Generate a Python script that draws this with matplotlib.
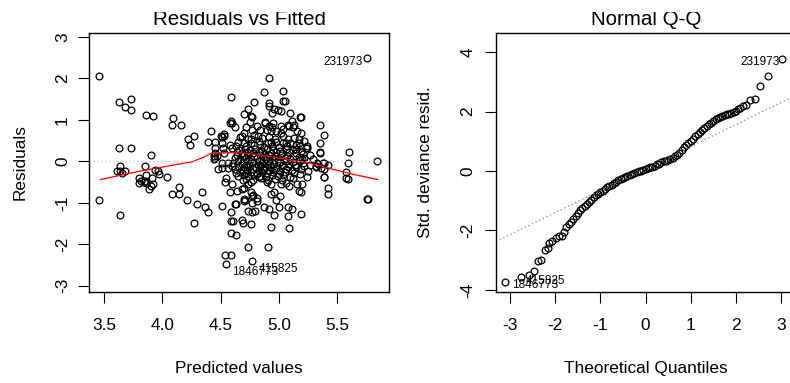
import numpy as np
import matplotlib
matplotlib.use("Agg")
import matplotlib.pyplot as plt
from matplotlib.patches import Rectangle

# residuals vs fitted
fitted = [
    3.46, 3.46, 3.63, 3.68, 3.73, 3.73, 3.63, 3.73, 3.64, 3.90,
    3.64, 3.61, 3.64, 3.68, 3.65, 3.85, 3.86, 3.92, 4.09, 4.08,
    4.16, 4.22, 4.27, 4.24, 4.42, 4.39, 4.45, 4.45, 4.45, 4.45,
    3.80, 3.82, 3.80, 3.84, 3.86, 3.89, 3.90, 3.92, 3.91, 3.96,
    3.97, 3.94, 4.04, 3.86, 3.85, 4.14, 4.08, 4.14, 4.21, 4.34,
    4.30, 4.37, 4.39, 4.27, 4.51, 4.44, 4.59, 4.59, 4.60, 4.58,
    4.62, 4.53, 4.53, 4.51, 4.58, 4.50, 4.51, 4.52, 4.53, 4.47,
    4.44, 4.48, 4.51, 4.56, 4.51, 4.56, 4.60, 4.61, 4.62, 4.55,
    4.54, 4.60, 4.58, 4.62, 4.63, 4.59, 4.59, 4.61, 4.59, 4.63,
    4.54, 4.59, 4.55, 4.77, 4.74, 4.91, 4.68, 4.69, 4.76, 4.93,
    5.09, 4.96, 5.08, 5.19, 4.87, 4.92, 5.00, 5.08, 5.11, 4.74,
    4.77, 4.80, 4.70, 4.70, 4.71, 4.98, 5.01, 4.96, 4.93, 4.81,
    4.77, 4.77, 4.81, 4.70, 4.76, 4.78, 4.74, 4.76, 4.69, 4.64,
    4.68, 5.17, 5.19, 5.20, 5.16, 5.24, 5.25, 5.27, 5.32, 5.34,
    5.39, 5.09, 5.02, 5.06, 4.93, 4.90, 4.83, 4.81, 5.36, 5.39,
    5.39, 5.42, 5.42, 5.58, 5.59, 5.58, 5.59, 5.84, 5.76, 5.77,
    5.60, 5.35, 5.39, 5.35, 5.35, 5.35, 5.76, 5.29, 5.33, 5.32,
    5.38, 5.39, 5.42, 5.23, 5.24, 5.19, 5.21, 5.17, 5.22, 5.27,
    4.92, 4.87, 5.04, 4.79, 5.04, 5.05, 4.92, 4.92, 4.74, 4.96,
    4.99, 5.02, 4.94, 5.10, 4.76, 5.18, 5.19, 4.88, 4.95, 5.11,
    5.02, 5.08, 5.12, 5.16, 5.19, 4.90, 4.93, 4.98, 5.02, 4.70,
    4.77, 4.75, 4.72, 4.70, 4.68, 4.77, 4.79, 4.76, 4.82, 4.83,
    4.70, 5.24, 5.18, 5.17, 5.15, 5.22, 5.10, 5.04, 4.98, 4.93,
    4.67, 4.65, 4.63, 4.60, 4.88, 4.81, 4.84, 4.92, 4.94, 5.04,
    5.09, 5.13, 4.86, 4.92, 4.97, 5.04, 5.08, 5.13, 5.17, 4.74,
    4.66, 4.71, 4.75, 4.80, 4.86, 4.90, 4.95, 5.01, 5.06, 5.12,
    4.68, 4.73, 4.78, 4.83, 4.88, 4.93, 4.98, 5.03, 5.09, 5.15,
    4.64, 4.70, 4.74, 4.79, 4.84, 4.89, 4.92, 4.97, 5.02, 5.07,
    4.67, 4.72, 4.76, 4.81, 4.85, 4.90, 4.94, 4.99, 5.05, 5.10,
    4.65, 4.69, 4.74, 4.78, 4.83, 4.87, 4.92, 4.96, 5.01, 5.06,
    5.12, 5.18, 4.68, 4.72, 4.77, 4.82, 4.86, 4.91, 4.95, 5.00,
    5.04, 5.09, 5.14, 5.21, 4.66, 4.70, 4.75, 4.80, 4.84, 4.88,
    4.93, 4.98, 5.03, 5.08, 5.15, 4.69, 4.73, 4.78, 4.83, 4.87,
    4.92, 4.96, 5.01, 5.06, 5.11, 5.19, 4.67, 4.72, 4.76, 4.81,
    4.86, 4.90, 4.95, 5.00, 5.05, 5.13, 4.70, 4.74, 4.79, 4.84,
    4.89, 4.94, 4.99, 5.04, 5.10, 4.72, 4.78, 4.85, 4.91, 4.97,
    5.03, 5.12, 4.72, 4.79, 4.87, 4.94, 5.00, 5.07, 4.76, 4.84,
    4.91, 5.06, 4.64, 4.62, 4.63, 4.65, 5.18, 5.22, 5.15, 5.20,
]
residuals = [
    2.05, -0.93, 1.43, 1.30, 1.49, 1.24, 0.31, 0.31, -1.29, 0.14,
    -0.11, -0.24, -0.24, -0.24, -0.28, -0.11, 1.11, 1.08, 1.04, 0.88,
    0.88, 0.53, 0.60, 0.40, 0.72, 0.47, 0.47, 0.31, 0.21, 0.08,
    -0.40, -0.47, -0.53, -0.50, -0.53, -0.66, -0.59, -0.56, -0.40, -0.24,
    -0.30, -0.21, -0.37, -0.34, -0.47, -0.63, -0.79, -0.79, -0.94, -0.75,
    -1.04, -1.10, -1.23, -1.49, -1.07, 0.05, 1.56, 0.98, 0.92, 0.92,
    0.82, 0.66, 0.60, 0.58, 0.40, 0.61, 0.45, 0.31, 0.21, 0.13,
    0.13, -0.19, -0.03, -0.03, -0.17, -0.17, -0.11, -0.03, -0.18, -0.40,
    -0.50, -0.56, -0.75, -1.04, -1.04, -1.23, -1.45, -1.45, -1.74, -1.77,
    -2.25, -2.25, -2.47, -2.40, -2.07, -2.07, -1.42, -1.49, -1.51, -1.58,
    -1.61, -1.29, -1.32, -1.26, -1.10, -1.16, -1.10, -1.10, -1.16, -1.19,
    -1.22, -1.19, -0.95, -0.90, -0.93, -0.94, -0.84, -0.75, -0.78, -0.96,
    -1.00, -0.84, -0.88, -0.65, -0.75, -0.81, -0.55, -0.49, -0.46, -0.71,
    -0.67, -0.72, -0.75, -0.55, -0.55, -0.39, -0.23, -0.10, -0.14, -0.07,
    -0.04, -0.59, -0.55, -0.52, -0.55, -0.49, -0.39, -0.30, -0.17, -0.39,
    -0.37, -0.65, -0.78, -0.27, -0.43, -0.40, -0.04, 0.00, -0.91, -0.92,
    0.22, 0.88, 0.64, 0.43, 0.22, 0.19, 2.49, 0.05, -0.03, -0.11,
    -0.03, -0.19, -0.10, 0.31, 0.37, 0.25, 0.17, 0.11, 0.08, 0.14,
    2.01, 1.66, 1.69, 1.43, 1.46, 1.46, 1.40, 1.33, 1.27, 1.27,
    1.24, 1.20, 1.17, 1.16, 1.08, 1.06, 1.06, 0.95, 0.92, 0.98,
    0.85, 0.87, 0.82, 0.72, 0.69, 0.76, 0.72, 0.72, 0.69, 1.14,
    1.06, 0.95, 0.82, 0.69, 0.60, 0.76, 0.63, 0.53, 0.60, 0.50,
    0.43, 0.31, 0.37, 0.43, 0.40, 0.50, 0.43, 0.43, 0.47, 0.47,
    0.59, 0.47, 0.37, 0.31, 0.93, 0.85, 0.75, 0.85, 0.82, 0.77,
    0.86, 0.88, 0.56, 0.59, 0.53, 0.61, 0.53, 0.56, 0.53, 0.53,
    0.27, 0.30, 0.26, 0.29, 0.25, 0.30, 0.27, 0.24, 0.29, 0.26,
    0.20, 0.23, 0.19, 0.22, 0.18, 0.21, 0.23, 0.19, 0.22, 0.20,
    0.14, 0.12, 0.16, 0.13, 0.15, 0.11, 0.16, 0.13, 0.15, 0.12,
    0.06, 0.09, 0.05, 0.08, 0.04, 0.07, 0.09, 0.05, 0.08, 0.05,
    0.01, -0.02, 0.02, -0.01, 0.01, -0.03, 0.00, 0.02, -0.02, 0.01,
    -0.01, 0.02, -0.06, -0.09, -0.05, -0.08, -0.06, -0.10, -0.07, -0.05,
    -0.09, -0.06, -0.08, -0.05, -0.13, -0.15, -0.12, -0.14, -0.11, -0.15,
    -0.13, -0.16, -0.12, -0.14, -0.13, -0.20, -0.22, -0.19, -0.21, -0.18,
    -0.22, -0.20, -0.23, -0.19, -0.21, -0.18, -0.27, -0.29, -0.26, -0.28,
    -0.25, -0.29, -0.27, -0.30, -0.26, -0.28, -0.34, -0.36, -0.33, -0.35,
    -0.37, -0.33, -0.36, -0.34, -0.37, -0.42, -0.44, -0.41, -0.45, -0.42,
    -0.44, -0.41, 0.36, 0.38, 0.35, 0.37, 0.34, 0.36, 0.44, 0.42,
    0.45, 0.43, 0.22, 0.08, -0.28, -0.36, -0.30, -0.12, 0.30, 0.05,
]

# red smoother
smooth_x = [3.47, 3.84, 4.26, 4.35, 4.42, 4.60, 4.72, 4.89, 5.12, 5.28, 5.46, 5.63, 5.85]
smooth_y = [-0.44, -0.22, -0.01, 0.09, 0.19, 0.21, 0.19, 0.13, 0.02, -0.05, -0.19, -0.31, -0.44]

# normal q-q
qq_theoretical = [
    -3.10, -2.75, -2.59, -2.46, -2.38, -2.32, -2.22, -2.16, -2.13, -2.06, -1.98, -1.91, -1.84, -1.81,
    -1.75, -1.70, -1.65, -1.60, -1.55, -1.50, -1.45, -1.40, -1.35, -1.30,
    -1.25, -1.20, -1.15, -1.10, -1.05, -1.00, -0.95, -0.90, -0.85, -0.80,
    -0.75, -0.70, -0.65, -0.60, -0.55, -0.50, -0.45, -0.40, -0.35, -0.30,
    -0.25, -0.20, -0.15, -0.10, -0.05, 0.00, 0.05, 0.10, 0.15, 0.20,
    0.25, 0.30, 0.35, 0.40, 0.45, 0.50, 0.55, 0.60, 0.65, 0.70,
    0.75, 0.80, 0.85, 0.90, 0.95, 1.00, 1.05, 1.10, 1.15, 1.20,
    1.25, 1.30, 1.35, 1.40, 1.45, 1.50, 1.55, 1.60, 1.65, 1.70,
    1.75, 1.80, 1.85, 1.90, 1.95, 2.00, 2.05, 2.10, 2.16, 2.22,
    2.31, 2.42, 2.54, 2.72, 3.03,
]
qq_resid = [
    -3.72, -3.55, -3.50, -3.35, -3.02, -2.99, -2.65, -2.59, -2.43, -2.35, -2.26, -2.20, -2.18, -2.04,
    -1.88, -1.79, -1.70, -1.60, -1.51, -1.41, -1.32, -1.25, -1.18, -1.10,
    -1.03, -0.96, -0.88, -0.81, -0.76, -0.72, -0.66, -0.60, -0.55, -0.51,
    -0.46, -0.42, -0.37, -0.32, -0.28, -0.25, -0.21, -0.17, -0.13, -0.10,
    -0.07, -0.04, -0.01, 0.01, 0.03, 0.06, 0.09, 0.12, 0.15, 0.18,
    0.22, 0.25, 0.29, 0.32, 0.35, 0.38, 0.41, 0.45, 0.49, 0.54,
    0.62, 0.71, 0.79, 0.87, 0.95, 1.02, 1.09, 1.16, 1.23, 1.30,
    1.37, 1.44, 1.51, 1.57, 1.63, 1.69, 1.74, 1.78, 1.81, 1.84,
    1.87, 1.90, 1.93, 1.96, 1.99, 2.03, 2.08, 2.12, 2.17, 2.21,
    2.38, 2.43, 2.87, 3.19, 3.78,
]
qq_intercept, qq_slope = 0.08, 0.74

# ids of the three most extreme points, from lowest to highest
flagged_ids = ["1846773", "415825", "231973"]

plt.rcParams['font.family'] = ['Liberation Sans', 'DejaVu Sans']
plt.rcParams['axes.unicode_minus'] = False

W, H = 790, 383
POINT_STYLE = dict(ls='none', marker='o', mfc='none', mec='black', ms=4.9, mew=0.9)
DOTTED = (0, (1, 2.2))


def r_axes(ax, xlim, ylim, xticks, yticks, ypad):
    """base-R looking box and axes"""
    ax.set_xlim(xlim)
    ax.set_ylim(ylim)
    ax.set_xticks(xticks)
    ax.set_yticks(yticks)
    ax.tick_params(direction='out', length=7.7, width=0.8, labelsize=12.4, colors='black')
    ax.tick_params(axis='x', pad=11)
    ax.tick_params(axis='y', pad=ypad, labelrotation=90)
    plt.setp(ax.get_yticklabels(), va='center')
    for spine in ax.spines.values():
        spine.set_linewidth(1.0)


def label_extremes(ax, xs, ys, offsets):
    """tag the three largest |value| points like plot.lm does"""
    xs, ys = np.asarray(xs), np.asarray(ys)
    idx = np.argsort(np.abs(ys))[-3:]
    idx = idx[np.argsort(ys[idx])]
    for name, i in zip(flagged_ids, idx):
        dx, dy, ha = offsets[name]
        ax.annotate(name, (xs[i], ys[i]), xytext=(dx, dy), textcoords='offset points',
                    ha=ha, va='baseline', fontsize=8.5)


def plot():
    fig = plt.figure(figsize=(W / 100, H / 100), dpi=100)

    ax1 = fig.add_axes([89 / W, 91 / H, 300 / W, 259 / H])
    ax1.plot(fitted, residuals, **POINT_STYLE)
    ax1.plot(smooth_x, smooth_y, color='red', lw=0.9)
    ax1.axhline(0, color='#BEBEBE', ls=DOTTED, lw=0.9)
    r_axes(ax1, (3.371, 5.946), (-3.15, 3.09), [3.5, 4.0, 4.5, 5.0, 5.5], range(-3, 4), 6)
    ax1.set_title('Residuals vs Fitted', fontsize=14.8, y=1.031, pad=0)
    ax1.set_xlabel('Predicted values', fontsize=12.4, va='baseline')
    ax1.xaxis.set_label_coords(0.5, -0.3116)
    ax1.set_ylabel('Residuals', fontsize=12.4, va='center')
    ax1.yaxis.set_label_coords(-0.231, 0.5)
    label_extremes(ax1, fitted, residuals, {
        '231973': (-3.6, -5.0, 'right'),
        '1846773': (3.8, -8.3, 'left'),
        '415825': (4.8, -7.7, 'left'),
    })

    ax2 = fig.add_axes([496 / W, 91 / H, 300 / W, 259 / H])
    ax2.plot(qq_theoretical, qq_resid, **POINT_STYLE)
    ax2.axline((0, qq_intercept), slope=qq_slope, color='#7F7F7F', ls=DOTTED, lw=0.9)
    r_axes(ax2, (-3.31, 3.33), (-4.07, 4.64), range(-3, 4), [-4, -2, 0, 2, 4], 7.2)
    ax2.set_title('Normal Q-Q', fontsize=14.8, y=1.031, pad=0)
    ax2.set_xlabel('Theoretical Quantiles', fontsize=12.4, va='baseline')
    ax2.xaxis.set_label_coords(0.5, -0.3116)
    ax2.set_ylabel('Std. deviance resid.', fontsize=12.4, va='center')
    ax2.yaxis.set_label_coords(-0.234, 0.5)
    label_extremes(ax2, qq_theoretical, qq_resid, {
        '231973': (-1.8, -4.6, 'right'),
        '1846773': (4.5, -4.8, 'left'),
        '415825': (2.9, -5.2, 'left'),
    })

    # the source image is cropped just through the titles
    fig.add_artist(Rectangle((0, 1 - 12 / H), 1, 12 / H, transform=fig.transFigure,
                             facecolor='white', edgecolor='none', zorder=10))

    fig.savefig('out.png', dpi=100)


if __name__ == "__main__":
    plot()
